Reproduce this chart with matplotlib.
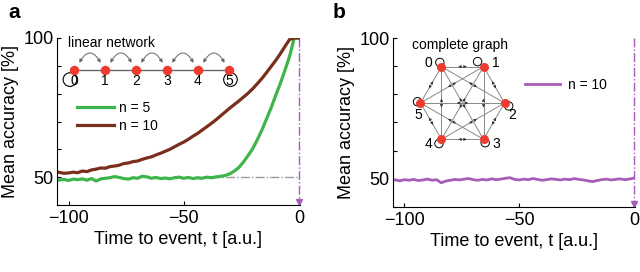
import matplotlib.pyplot as plt
import numpy as np
from matplotlib.patches import FancyArrowPatch, Circle

plt.rcParams['font.family'] = ['Liberation Sans', 'DejaVu Sans']

# time axis (a.u.), sampled every 2 units
t = np.arange(-104, 1, 2)

# panel a: linear network
acc_n5 = [49.0, 49.2, 48.8, 49.3, 49.1, 49.4, 48.9, 49.5, 48.6, 49.4,
          49.6, 49.8, 50.2, 49.9, 49.5, 49.3, 49.8, 49.6, 50.3, 50.1,
          49.6, 49.9, 49.5, 49.7, 49.4, 49.8, 50.0, 49.6, 49.9, 49.5,
          49.8, 49.6, 50.0, 49.8, 50.1, 50.3, 50.6, 51.2, 52.2, 53.5,
          55.5, 57.8, 60.3, 63.5, 67.0, 71.0, 75.0, 79.5, 83.8, 88.5,
          93.5, 100.0, 100.0]
acc_n10 = [51.7, 51.4, 51.5, 51.8, 51.6, 52.2, 52.0, 52.6, 52.9, 53.3,
           53.2, 53.8, 54.0, 54.3, 54.9, 55.1, 55.6, 55.8, 56.4, 56.9,
           57.3, 58.0, 58.6, 59.3, 60.0, 60.9, 61.8, 62.6, 63.6, 64.7,
           65.7, 66.9, 68.1, 69.3, 70.6, 72.0, 73.4, 74.8, 76.1, 77.4,
           78.8, 80.2, 81.8, 83.6, 85.5, 87.6, 89.8, 92.0, 94.4, 97.0,
           99.5, 100.0, 100.0]

# panel b: complete graph
acc_complete = [49.6, 49.3, 49.7, 49.5, 49.8, 49.4, 49.6, 49.9, 49.5, 49.7,
                48.6, 49.2, 49.5, 49.8, 49.6, 49.9, 50.1, 49.7, 49.5, 49.8,
                49.6, 50.0, 49.7, 49.9, 50.2, 50.4, 49.8, 49.6, 49.9, 49.7,
                50.1, 49.8, 49.5, 49.7, 50.0, 49.8, 49.6, 49.9, 49.7, 50.1,
                49.8, 49.6, 49.3, 49.0, 49.4, 49.7, 49.9, 49.6, 49.8, 50.0,
                49.7, 49.9, 50.3]

chance = 50
chance_from = -38
node_ids = np.arange(6)

green = '#3db54a'
brown = '#7a2e1c'
purple = '#a65db8'
node_red = '#ee3b2f'
edge_grey = '#666666'

fig = plt.figure(figsize=(6.4, 2.72), dpi=100)
ax1 = fig.add_axes([57/640, 67/272, 243/640, 167/272])
ax2 = fig.add_axes([393/640, 65/272, 242/640, 169/272])


def style_axes(ax):
    ax.set_xlim(-105, 0.5)
    ax.set_ylim(40, 100)
    ax.spines['top'].set_visible(False)
    ax.spines['right'].set_visible(False)
    ax.set_xticks([-100, -50, 0])
    ax.set_yticks(np.arange(40, 101, 10))
    ax.set_yticklabels(['', '50', '', '', '', '', '100'])
    ax.tick_params(direction='in', length=3, width=0.8, labelsize=13)
    ax.tick_params(axis='y', pad=2.5)
    ax.set_xlabel('Time to event, t [a.u.]', fontsize=13, labelpad=3)
    ax.set_ylabel('Mean accuracy [%]', fontsize=13, labelpad=3)
    # event marker at t = 0
    ax.plot([0, 0], [100, 41.5], ls='-.', color=purple, lw=1, clip_on=False)
    ax.plot(0, 41.2, marker='v', color=purple, ms=4, clip_on=False)


# ---- panel a
style_axes(ax1)
ax1.plot([chance_from, 0], [chance, chance], ls='-.', color='#999999', lw=1)
ax1.plot(t, acc_n5, color=green, lw=2.3, label='n = 5')
ax1.plot(t, acc_n10, color=brown, lw=2.3, label='n = 10')
ax1.legend(loc='center left', bbox_to_anchor=(0.082, 0.527), frameon=False,
           fontsize=10, handlelength=2.7, handletextpad=0.3, labelspacing=0.3,
           borderpad=0, borderaxespad=0)

# linear network inset
ins1 = fig.add_axes([58/640, (272-90)/272, 192/640, 52/272])
ins1.set_xlim(-0.516, 5.68)
ins1.set_ylim(-0.645, 1.03)
ins1.axis('off')
ins1.plot([node_ids[0], node_ids[-1]], [0, 0], color=edge_grey, lw=1, zorder=1)
for i in node_ids[:-1]:
    ins1.add_patch(FancyArrowPatch((i + 0.13, 0.15), (i + 0.9, 0.15),
                                   connectionstyle='arc3,rad=-1.0',
                                   arrowstyle='<|-|>', mutation_scale=5,
                                   color=edge_grey, lw=0.7))
ins1.add_patch(Circle((-0.13, -0.31), 0.22, fill=False, ec='k', lw=0.8))
ins1.add_patch(Circle((5.05, -0.31), 0.22, fill=False, ec='k', lw=0.8))
ins1.scatter(node_ids, np.zeros(6), s=34, color=node_red, zorder=3)
for i in node_ids:
    ins1.text(i, -0.34, str(i), ha='center', va='center', fontsize=10)
ins1.text(-0.19, 0.87, 'linear network', fontsize=10, va='center')

# ---- panel b
style_axes(ax2)
ax2.plot(t, acc_complete, color=purple, lw=2, label='n = 10')
ax2.legend(loc='center left', bbox_to_anchor=(0.545, 0.722), frameon=False,
           fontsize=10, handlelength=2.5, handletextpad=0.6,
           borderpad=0, borderaxespad=0)

# complete graph inset
ins2 = fig.add_axes([400/640, (272-152)/272, 130/640, 114/272])
ins2.set_xlim(-1.488, 1.607)
ins2.set_ylim(-1.167, 1.548)
ins2.axis('off')
ang = np.deg2rad(120 - 60 * node_ids)
px, py = np.cos(ang), np.sin(ang)
for i in node_ids:
    for j in node_ids[i + 1:]:
        ins2.plot([px[i], px[j]], [py[i], py[j]], color='#888888', lw=0.7, zorder=1)
        mx, my = (px[i] + px[j]) / 2, (py[i] + py[j]) / 2
        for k in (i, j):
            tip = (mx + 0.2 * (px[k] - mx), my + 0.2 * (py[k] - my))
            ins2.annotate('', xy=tip, xytext=(mx, my),
                          arrowprops=dict(arrowstyle='-|>', color='#333333',
                                          lw=0.5, mutation_scale=4))
loop_dx = [-0.04, -0.14, 0.10, 0.04, -0.06, -0.07]
loop_dy = [0.10, 0.12, -0.07, -0.08, -0.10, 0.03]
for i in node_ids:
    ins2.add_patch(Circle((px[i] + loop_dx[i], py[i] + loop_dy[i]), 0.1,
                          fill=False, ec='k', lw=0.7, zorder=2))
ins2.scatter(px, py, s=30, color=node_red, zorder=3)
lab_dx = [-0.32, 0.30, 0.18, 0.30, -0.32, -0.06]
lab_dy = [0.08, 0.08, -0.28, -0.11, -0.11, -0.29]
for i in node_ids:
    ins2.text(px[i] + lab_dx[i], py[i] + lab_dy[i], str(i), ha='center',
              va='center', fontsize=10)
ins2.text(-0.06, 1.38, 'complete graph', fontsize=10, ha='center', va='center')

fig.text(8/640, 1 - 12/272, 'a', fontsize=15, fontweight='bold', va='center')
fig.text(333/640, 1 - 12/272, 'b', fontsize=15, fontweight='bold', va='center')

fig.savefig('out.png', dpi=100)
